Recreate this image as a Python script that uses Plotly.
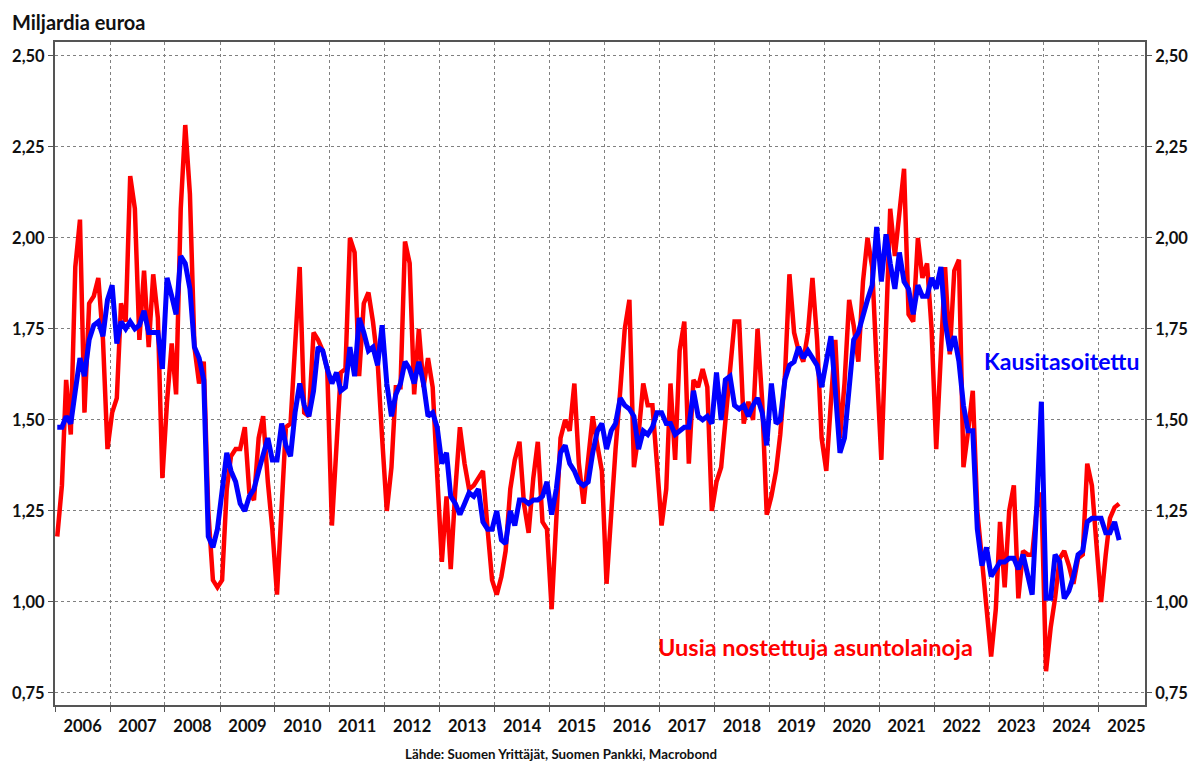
import pandas as pd
import plotly.graph_objects as go

# Monthly data, Jan 2006 .. May 2025 (billions of euro)
start_month = "2006-01-15"

loans_raw = [
    1.18, 1.32, 1.61, 1.46, 1.92, 2.05, 1.52, 1.82, 1.84, 1.89, 1.72, 1.42,  # 2006
    1.52, 1.56, 1.82, 1.77, 2.17, 2.08, 1.72, 1.91, 1.70, 1.90, 1.78, 1.34,  # 2007
    1.55, 1.71, 1.57, 2.08, 2.31, 2.12, 1.70, 1.60, 1.66, 1.25, 1.06, 1.04,  # 2008
    1.06, 1.31, 1.40, 1.42, 1.42, 1.48, 1.30, 1.28, 1.45, 1.51, 1.33, 1.20,  # 2009
    1.02, 1.26, 1.48, 1.49, 1.70, 1.92, 1.52, 1.51, 1.74, 1.72, 1.69, 1.64,  # 2010
    1.21, 1.42, 1.63, 1.64, 2.00, 1.96, 1.62, 1.82, 1.85, 1.77, 1.66, 1.45,  # 2011
    1.25, 1.37, 1.59, 1.59, 1.99, 1.93, 1.57, 1.75, 1.59, 1.67, 1.59, 1.35,  # 2012
    1.11, 1.29, 1.09, 1.31, 1.48, 1.38, 1.31, 1.32, 1.34, 1.36, 1.20, 1.06,  # 2013
    1.02, 1.07, 1.14, 1.31, 1.39, 1.44, 1.27, 1.19, 1.34, 1.44, 1.22, 1.20,  # 2014
    0.98, 1.23, 1.45, 1.50, 1.47, 1.60, 1.38, 1.27, 1.40, 1.51, 1.43, 1.36,  # 2015
    1.05, 1.26, 1.42, 1.58, 1.75, 1.83, 1.37, 1.46, 1.60, 1.54, 1.54, 1.38,  # 2016
    1.21, 1.31, 1.60, 1.39, 1.69, 1.77, 1.38, 1.61, 1.59, 1.64, 1.59, 1.25,  # 2017
    1.33, 1.37, 1.50, 1.63, 1.77, 1.77, 1.49, 1.55, 1.50, 1.75, 1.55, 1.24,  # 2018
    1.29, 1.36, 1.46, 1.62, 1.90, 1.74, 1.69, 1.66, 1.74, 1.89, 1.72, 1.45,  # 2019
    1.36, 1.55, 1.72, 1.45, 1.60, 1.83, 1.76, 1.66, 1.88, 2.00, 1.92, 1.65,  # 2020
    1.39, 1.75, 2.08, 1.95, 2.07, 2.19, 1.79, 1.77, 2.00, 1.89, 1.93, 1.75,  # 2021
    1.42, 1.66, 1.92, 1.68, 1.91, 1.94, 1.37, 1.47, 1.58, 1.25, 1.12, 1.00,  # 2022
    0.85, 0.98, 1.22, 1.04, 1.25, 1.32, 1.01, 1.14, 1.13, 1.13, 1.26, 1.30,  # 2023
    0.81, 0.93, 1.01, 1.12, 1.14, 1.10, 1.05, 1.12, 1.13, 1.38, 1.32, 1.16,  # 2024
    1.00, 1.13, 1.23, 1.26, 1.27,                                            # 2025
]

loans_sa = [
    1.48, 1.48, 1.51, 1.49, 1.58, 1.67, 1.62, 1.72, 1.76, 1.77, 1.73, 1.83,  # 2006
    1.87, 1.71, 1.77, 1.75, 1.77, 1.75, 1.76, 1.80, 1.74, 1.74, 1.74, 1.64,  # 2007
    1.89, 1.84, 1.79, 1.95, 1.93, 1.86, 1.70, 1.67, 1.61, 1.18, 1.15, 1.20,  # 2008
    1.31, 1.41, 1.36, 1.33, 1.27, 1.25, 1.29, 1.31, 1.36, 1.41, 1.45, 1.39,  # 2009
    1.39, 1.49, 1.43, 1.40, 1.52, 1.60, 1.54, 1.51, 1.58, 1.70, 1.69, 1.64,  # 2010
    1.60, 1.63, 1.58, 1.59, 1.70, 1.62, 1.78, 1.74, 1.69, 1.70, 1.65, 1.76,  # 2011
    1.60, 1.51, 1.57, 1.60, 1.66, 1.64, 1.60, 1.66, 1.60, 1.51, 1.52, 1.48,  # 2012
    1.38, 1.41, 1.29, 1.27, 1.24, 1.27, 1.30, 1.29, 1.31, 1.22, 1.20, 1.20,  # 2013
    1.25, 1.17, 1.16, 1.25, 1.21, 1.28, 1.28, 1.27, 1.28, 1.28, 1.29, 1.33,  # 2014
    1.24, 1.31, 1.41, 1.43, 1.38, 1.36, 1.33, 1.32, 1.33, 1.41, 1.47, 1.49,  # 2015
    1.42, 1.47, 1.49, 1.56, 1.54, 1.53, 1.51, 1.42, 1.47, 1.46, 1.48, 1.52,  # 2016
    1.52, 1.49, 1.49, 1.46, 1.47, 1.48, 1.48, 1.58, 1.51, 1.50, 1.51, 1.49,  # 2017
    1.63, 1.50, 1.61, 1.62, 1.54, 1.53, 1.54, 1.51, 1.54, 1.56, 1.52, 1.43,  # 2018
    1.60, 1.49, 1.50, 1.61, 1.65, 1.66, 1.70, 1.67, 1.69, 1.67, 1.65, 1.59,  # 2019
    1.66, 1.73, 1.58, 1.41, 1.45, 1.60, 1.72, 1.74, 1.79, 1.83, 1.87, 2.03,  # 2020
    1.88, 2.01, 1.93, 1.86, 1.96, 1.88, 1.86, 1.79, 1.87, 1.84, 1.84, 1.89,  # 2021
    1.86, 1.92, 1.77, 1.69, 1.73, 1.66, 1.54, 1.47, 1.47, 1.20, 1.10, 1.15,  # 2022
    1.07, 1.09, 1.11, 1.11, 1.12, 1.12, 1.09, 1.13, 1.08, 1.02, 1.27, 1.55,  # 2023
    1.01, 1.01, 1.13, 1.11, 1.01, 1.03, 1.07, 1.13, 1.14, 1.22, 1.23, 1.23,  # 2024
    1.23, 1.19, 1.19, 1.22, 1.17,                                            # 2025
]

y_ticks = [0.75, 1.00, 1.25, 1.50, 1.75, 2.00, 2.25, 2.50]
y_range = [0.717, 2.538]
x_range = ["2005-12-31", "2025-11-03"]

title_text = "Miljardia euroa"
source_text = "Lähde: Suomen Yrittäjät, Suomen Pankki, Macrobond"
label_raw = "Uusia nostettuja asuntolainoja"
label_sa = "Kausitasoitettu"

dates = pd.date_range("2006-01-01", periods=len(loans_raw), freq="MS") + pd.Timedelta(days=14)

FONT = "Lato"
TXT = "#111111"
GRID = "#808080"
AXLINE = "#555555"

fig = go.Figure()
fig.add_trace(go.Scatter(x=dates, y=loans_raw, mode="lines",
                         line=dict(color="#ff0000", width=4.5), name=label_raw,
                         hoverinfo="skip"))
fig.add_trace(go.Scatter(x=dates, y=loans_sa, mode="lines",
                         line=dict(color="#0000ff", width=5), name=label_sa,
                         yaxis="y2", hoverinfo="skip"))

tickfont = dict(family=FONT, size=16.5, color=TXT, weight="bold")

fig.update_layout(
    width=1200, height=774,
    margin=dict(l=52, r=52, t=42, b=69),
    paper_bgcolor="white", plot_bgcolor="white",
    showlegend=False,
    separators=", ",
    xaxis=dict(
        type="date", range=x_range,
        tick0="2006-01-01", dtick="M12", tickformat="%Y",
        ticklabelmode="period",
        ticks="outside", ticklen=5, tickcolor=AXLINE, tickwidth=1,
        showgrid=True, gridcolor=GRID, gridwidth=1, griddash="3px,3px",
        showline=True, linecolor=AXLINE, linewidth=2, mirror=True,
        tickfont=tickfont, zeroline=False,
    ),
    yaxis=dict(
        range=y_range, tickvals=y_ticks, tickformat=".2f",
        ticks="outside", ticklen=5, tickcolor=AXLINE, tickwidth=1,
        showgrid=True, gridcolor=GRID, gridwidth=1, griddash="3px,3px",
        showline=True, linecolor=AXLINE, linewidth=2,
        tickfont=tickfont, zeroline=False,
    ),
    yaxis2=dict(
        range=y_range, tickvals=y_ticks, tickformat=".2f",
        overlaying="y", side="right",
        ticks="outside", ticklen=5, tickcolor=AXLINE, tickwidth=1,
        showgrid=False,
        showline=True, linecolor=AXLINE, linewidth=2,
        tickfont=tickfont, zeroline=False,
    ),
    annotations=[
        dict(text=title_text, xref="paper", yref="paper",
             x=(7 - 52) / 1096, y=(705 - 22) / 663,
             xanchor="left", yanchor="middle", showarrow=False,
             font=dict(family=FONT, size=20, color=TXT, weight="bold")),
        dict(text=source_text, xref="paper", yref="paper",
             x=(561 - 52) / 1096, y=(705 - 754) / 663,
             xanchor="center", yanchor="middle", showarrow=False,
             font=dict(family=FONT, size=13.3, color=TXT, weight="bold")),
        dict(text=label_sa, xref="paper", yref="paper",
             x=(1065 - 52) / 1096, y=(705 - 361) / 663,
             xanchor="center", yanchor="middle", showarrow=False,
             font=dict(family=FONT, size=23, color="#0000ff", weight="bold")),
        dict(text=label_raw, xref="paper", yref="paper",
             x=(817 - 52) / 1096, y=(705 - 647) / 663,
             xanchor="center", yanchor="middle", showarrow=False,
             font=dict(family=FONT, size=23.5, color="#ff0000", weight="bold")),
    ],
)

fig.write_html("out.html")
